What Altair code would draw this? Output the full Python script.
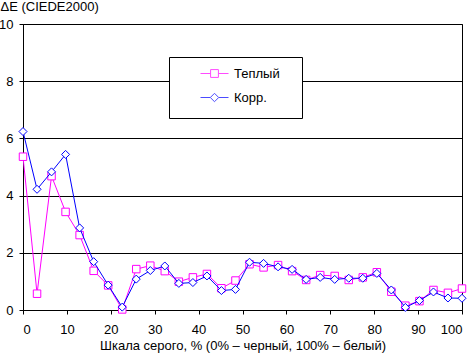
import altair as alt
import pandas as pd

# ---- data ----
gray_pct = [0, 3.2, 6.5, 9.7, 12.9, 16.1, 19.4, 22.6, 25.8, 29.0, 32.3, 35.5,
            38.7, 41.9, 45.2, 48.4, 51.6, 54.8, 58.1, 61.3, 64.5, 67.7, 71.0,
            74.2, 77.4, 80.6, 83.9, 87.1, 90.3, 93.5, 96.8, 100]
warm = [5.36, 0.57, 4.68, 3.43, 2.62, 1.37, 0.86, 0.02, 1.43, 1.55, 1.36, 0.99,
        1.14, 1.26, 0.76, 1.03, 1.60, 1.49, 1.57, 1.36, 1.05, 1.22, 1.19, 1.05,
        1.14, 1.32, 0.64, 0.15, 0.31, 0.70, 0.60, 0.75]
corr = [6.24, 4.22, 4.83, 5.44, 2.87, 1.69, 0.87, 0.10, 1.08, 1.38, 1.54, 0.93,
        0.96, 1.19, 0.68, 0.72, 1.67, 1.63, 1.51, 1.42, 1.07, 1.14, 1.07, 1.11,
        1.11, 1.28, 0.70, 0.09, 0.33, 0.63, 0.42, 0.41]
series_names = ["Теплый", "Корр."]
series_colors = ["#FF00FF", "#0000FF"]
x_ticks = [0, 10, 20, 30, 40, 50, 60, 70, 80, 90, 100]
y_ticks = [0, 2, 4, 6, 8, 10]
x_title = "Шкала серого, % (0% – черный, 100% – белый)"
y_title = "ΔE (CIEDE2000)"

# legend symbols: line with a hollow marker in the middle
legend_paths = [
    "M-1,0H-0.28M0.28,0H1M-0.28,-0.28H0.28V0.28H-0.28Z",
    "M-1,0H-0.3M0.3,0H1M-0.3,0L0,-0.3L0.3,0L0,0.3Z",
]

df = pd.DataFrame({
    "x": gray_pct + gray_pct,
    "y": warm + corr,
    "series": [series_names[0]] * len(warm) + [series_names[1]] * len(corr),
})

FONT = "Liberation Sans"

x_enc = alt.X(
    "x:Q",
    scale=alt.Scale(domain=[0, 100], nice=False, zero=False),
    axis=alt.Axis(values=x_ticks, grid=False, tickSize=4, labelPadding=19,
                  labelBaseline="alphabetic", title=x_title,
                  titleBaseline="alphabetic", titleY=39),
)
y_enc = alt.Y(
    "y:Q",
    scale=alt.Scale(domain=[0, 10], nice=False),
    axis=alt.Axis(values=y_ticks, grid=True, gridColor="black", gridOpacity=1,
                  gridWidth=1, tickSize=4, labelPadding=6, title=y_title,
                  titleAngle=0, titleAlign="left", titleBaseline="alphabetic",
                  titleX=-23, titleY=-14),
)

base = alt.Chart(df).encode(x=x_enc, y=y_enc)

box = alt.Chart(pd.DataFrame({"k": [0]})).mark_rect(
    fill="white", stroke="black", strokeWidth=1
).encode(x=alt.value(146.5), x2=alt.value(279.5), y=alt.value(33.5), y2=alt.value(94.5))

layers = [box]
shapes = ["square", "diamond"]
sizes = [56, 64]
for name, col, shp, sz in zip(series_names, series_colors, shapes, sizes):
    sub = base.transform_filter(alt.datum.series == name)
    layers.append(sub.mark_line(color=col, strokeWidth=1))
    layers.append(sub.mark_point(shape=shp, size=sz, filled=True, fill="white",
                                 stroke=col, strokeWidth=1, opacity=1))

leg = alt.Legend(orient="none", legendX=177, legendY=35, padding=0, title=None,
                 labelFont=FONT, labelFontSize=13, labelColor="black",
                 labelOffset=5, symbolSize=784, symbolStrokeWidth=1,
                 rowPadding=2)
legend_layer = alt.Chart(df).transform_filter("false").mark_point(
    filled=False, strokeWidth=1
).encode(
    x=x_enc, y=y_enc,
    color=alt.Color("series:N", scale=alt.Scale(domain=series_names, range=series_colors), legend=leg),
    shape=alt.Shape("series:N", scale=alt.Scale(domain=series_names, range=legend_paths), legend=leg),
)
layers.append(legend_layer)

chart = alt.layer(*layers).properties(
    width=439, height=286,
    padding={"left": 23, "top": 24, "right": 10, "bottom": 43},
    autosize="none", background="white",
).configure_view(stroke="black", strokeWidth=1).configure_axis(
    domainColor="black", tickColor="black", labelColor="black", titleColor="black",
    labelFont=FONT, titleFont=FONT, labelFontSize=13, titleFontSize=13,
    titleFontWeight="normal",
)

chart.save("out.html", embed_options={"renderer": "svg", "actions": False})
